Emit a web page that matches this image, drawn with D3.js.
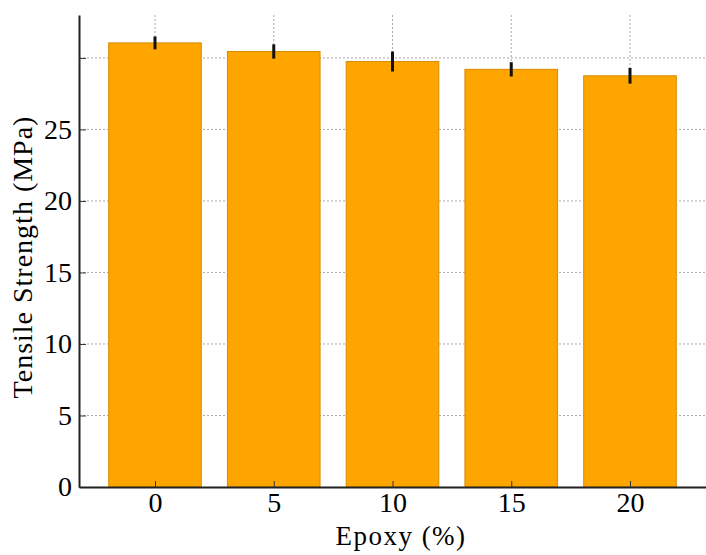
<!DOCTYPE html>
<html>
<head>
<meta charset="utf-8">
<script src="https://cdn.jsdelivr.net/npm/d3@7"></script>
<style>
  * { font-family: "Times New Roman", "Liberation Serif", Tinos, serif !important; }
</style>
</head>
<body style="margin:0">
<svg id="chart" width="706" height="555"></svg>
<script>
// data
const epoxy = [0, 5, 10, 15, 20];
const strength = [31.05, 30.45, 29.75, 29.2, 28.75];
const errs = [0.45, 0.5, 0.7, 0.5, 0.55];
const yTicks = [0, 5, 10, 15, 20, 25, 30];
const yLabels = ["0", "5", "10", "15", "20", "25", ""];

const svg = d3.select("#chart");
const plotLeft = 79, plotRight = 706, plotTop = 15, plotBottom = 487;
const fam = "Times New Roman";

const x = d3.scaleLinear().domain([-3.2, 23.2]).range([plotLeft, plotRight]);
const y = d3.scaleLinear().domain([0, 33]).range([plotBottom, plotTop]);
const barW = x(3.9) - x(0);

// grid
svg.append("g")
  .selectAll("line")
  .data(yTicks.slice(1))
  .enter()
  .append("line")
  .attr("x1", plotLeft).attr("x2", plotRight)
  .attr("y1", d => y(d)).attr("y2", d => y(d))
  .attr("stroke", "#aaa").attr("stroke-width", 1)
  .attr("stroke-dasharray", "2,2");

svg.append("g")
  .selectAll("line")
  .data(epoxy)
  .enter()
  .append("line")
  .attr("x1", d => x(d)).attr("x2", d => x(d))
  .attr("y1", plotTop).attr("y2", plotBottom)
  .attr("stroke", "#aaa").attr("stroke-width", 1)
  .attr("stroke-dasharray", "2,2");

// bars
svg.append("g")
  .selectAll("rect")
  .data(epoxy)
  .enter()
  .append("rect")
  .attr("x", d => x(d) - barW / 2)
  .attr("y", (d, i) => y(strength[i]))
  .attr("width", barW)
  .attr("height", (d, i) => plotBottom - y(strength[i]))
  .attr("fill", "#ffa500")
  .attr("stroke", "#d98c00")
  .attr("stroke-width", 1);

// error bars
svg.append("g")
  .selectAll("line")
  .data(epoxy)
  .enter()
  .append("line")
  .attr("x1", d => x(d)).attr("x2", d => x(d))
  .attr("y1", (d, i) => y(strength[i] + errs[i]))
  .attr("y2", (d, i) => y(strength[i] - errs[i]))
  .attr("stroke", "#111").attr("stroke-width", 3);

// axes
const yAxis = d3.axisLeft(y)
  .tickValues(yTicks)
  .tickFormat((d, i) => yLabels[i])
  .tickSizeInner(-7)
  .tickSizeOuter(0)
  .tickPadding(7);
const gy = svg.append("g").attr("transform", `translate(${plotLeft},0)`).call(yAxis);
gy.attr("font-family", fam).attr("font-size", 28);
gy.select(".domain").attr("stroke", "#222").attr("stroke-width", 2);
gy.selectAll(".tick line").attr("stroke", "#333");
gy.selectAll(".tick text")
  .attr("font-family", fam).attr("font-size", 28)
  .attr("fill", "#000").attr("dy", "0.32em");

const xAxis = d3.axisBottom(x)
  .tickValues(epoxy)
  .tickFormat(d => d)
  .tickSizeInner(-6)
  .tickSizeOuter(0)
  .tickPadding(5);
const gx = svg.append("g").attr("transform", `translate(0,${plotBottom})`).call(xAxis);
gx.attr("font-family", fam).attr("font-size", 28);
gx.select(".domain").attr("stroke", "#222").attr("stroke-width", 2);
gx.selectAll(".tick line").attr("stroke", "#333");
gx.selectAll(".tick text")
  .attr("font-family", fam).attr("font-size", 28)
  .attr("fill", "#000");

// labels
svg.append("text")
  .attr("x", 401)
  .attr("y", 545)
  .attr("text-anchor", "middle")
  .attr("font-family", fam).attr("font-size", 27)
  .attr("letter-spacing", 1.5)
  .text("Epoxy (%)");

svg.append("text")
  .attr("transform", `translate(32,257) rotate(-90)`)
  .attr("text-anchor", "middle")
  .attr("font-family", fam).attr("font-size", 28)
  .attr("letter-spacing", 1)
  .text("Tensile Strength (MPa)");
</script>
</body>
</html>
